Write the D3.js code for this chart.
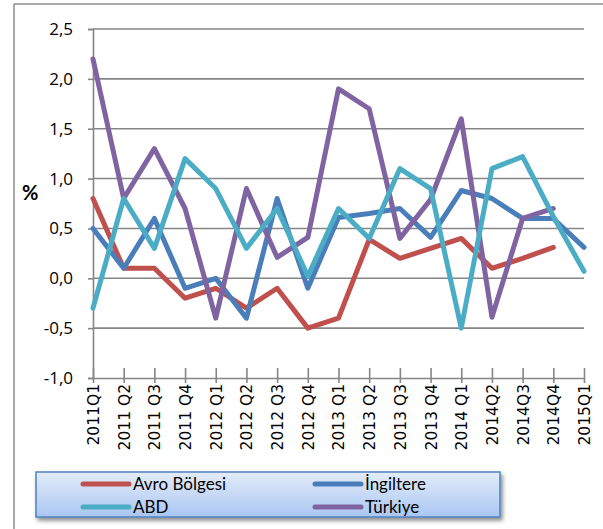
<!DOCTYPE html>
<html>
<head>
<meta charset="utf-8">
<script src="https://cdn.jsdelivr.net/npm/d3@7"></script>
<style>
  body { margin: 0; background: #fff; }
  text { font-family: Lato, "Open Sans", sans-serif; }
</style>
</head>
<body>
<div id="chart"></div>
<script>
var quarters = ["2011Q1", "2011 Q2", "2011 Q3", "2011 Q4", "2012 Q1", "2012 Q2", "2012 Q3", "2012 Q4",
                "2013 Q1", "2013 Q2", "2013 Q3", "2013 Q4", "2014 Q1", "2014Q2", "2014Q3", "2014Q4", "2015Q1"];
var yTicks = [-1.0, -0.5, 0.0, 0.5, 1.0, 1.5, 2.0, 2.5];

var avro     = [0.8, 0.1, 0.1, -0.2, -0.1, -0.3, -0.1, -0.5, -0.4, 0.39, 0.2, 0.3, 0.4, 0.1, 0.2, 0.31, null];
var ingilter = [0.5, 0.1, 0.6, -0.1, 0.0, -0.4, 0.8, -0.1, 0.61, 0.65, 0.7, 0.41, 0.88, 0.8, 0.6, 0.6, 0.31];
var abd      = [-0.3, 0.8, 0.3, 1.2, 0.9, 0.3, 0.7, 0.02, 0.7, 0.4, 1.1, 0.9, -0.5, 1.1, 1.22, 0.62, 0.07];
var turkiye  = [2.2, 0.8, 1.3, 0.7, -0.4, 0.9, 0.21, 0.41, 1.9, 1.7, 0.4, 0.79, 1.6, -0.39, 0.6, 0.7, null];

var series = [
  {name: "Avro Bölgesi", values: avro, color: "#C0504D"},
  {name: "İngiltere", values: ingilter, color: "#4A7EBB"},
  {name: "ABD", values: abd, color: "#4BACC6"},
  {name: "Türkiye", values: turkiye, color: "#8064A2"}
];
var drawOrder = [series[0], series[1], series[3], series[2]];

var width = 603, height = 529;
var svg = d3.select("#chart").append("svg")
  .attr("width", width).attr("height", height);

// outer frame (partly clipped)
svg.append("line").attr("x1", 14).attr("x2", width).attr("y1", 4).attr("y2", 4)
  .attr("stroke", "#8c8c8c").attr("stroke-width", 1.5);
svg.append("line").attr("x1", 14).attr("x2", 14).attr("y1", 4).attr("y2", height)
  .attr("stroke", "#8c8c8c").attr("stroke-width", 1.5);

var x = d3.scalePoint().domain(quarters).range([93, 584]);
var y = d3.scaleLinear().domain([-1, 2.5]).range([378, 29]);

// grid
svg.append("g").selectAll("line").data(yTicks.filter(d => d > -1)).enter().append("line")
  .attr("x1", 93).attr("x2", 584)
  .attr("y1", d => y(d)).attr("y2", d => y(d))
  .attr("stroke", "#868686").attr("stroke-width", 1.6);

// y axis
var yAxis = svg.append("g").attr("transform", "translate(93,0)")
  .call(d3.axisLeft(y).tickValues(yTicks).tickSize(5).tickPadding(15)
    .tickFormat(d => d3.format(".1f")(d).replace(".", ",").replace("−", "-")));
yAxis.select(".domain").attr("stroke", "#868686").attr("stroke-width", 1.6);
yAxis.selectAll(".tick line").attr("stroke", "#868686").attr("stroke-width", 1.6);
yAxis.selectAll("text").attr("font-size", 17).attr("fill", "#000")
  .style("font-family", "'Open Sans', sans-serif").attr("dy", "0.32em");

// x axis
var xAxis = svg.append("g").attr("transform", "translate(0,378)")
  .call(d3.axisBottom(x).tickSize(5).tickSizeOuter(0));
xAxis.select(".domain").attr("stroke", "#868686").attr("stroke-width", 1.6);
xAxis.selectAll(".tick line").attr("y1", -10).attr("y2", 5)
  .attr("stroke", "#868686").attr("stroke-width", 1.6);
xAxis.selectAll("text")
  .attr("transform", "rotate(-90)")
  .attr("x", -6).attr("y", 0).attr("dy", "0.35em")
  .attr("text-anchor", "end")
  .attr("font-size", 15.5).attr("fill", "#000")
  .style("font-family", "'DejaVu Sans', sans-serif");

// % label
svg.append("text").attr("x", 22).attr("y", 200).text("%")
  .attr("font-size", 20).attr("font-weight", "bold").attr("fill", "#000");

// lines
var line = d3.line()
  .defined(d => d != null)
  .x((d, i) => x(quarters[i]))
  .y(d => y(d));

svg.append("g").selectAll("path").data(drawOrder).enter().append("path")
  .attr("d", d => line(d.values))
  .attr("fill", "none")
  .attr("stroke", d => d.color)
  .attr("stroke-width", 5)
  .attr("stroke-linejoin", "round")
  .attr("stroke-linecap", "round");

// legend
var defs = svg.append("defs");
var grad = defs.append("linearGradient").attr("id", "lg")
  .attr("x1", 0).attr("y1", 0).attr("x2", 0).attr("y2", 1);
grad.append("stop").attr("offset", "0%").attr("stop-color", "#e4ecf9");
grad.append("stop").attr("offset", "100%").attr("stop-color", "#a9c6f2");
var filt = defs.append("filter").attr("id", "sh").attr("x", "-10%").attr("y", "-30%")
  .attr("width", "120%").attr("height", "180%");
filt.append("feDropShadow").attr("dx", 2).attr("dy", 3).attr("stdDeviation", 2)
  .attr("flood-color", "#000").attr("flood-opacity", 0.45);

svg.append("rect").attr("x", 36).attr("y", 472).attr("width", 464).attr("height", 45)
  .attr("fill", "url(#lg)").attr("stroke", "#4F81BD").attr("stroke-width", 1.5)
  .attr("filter", "url(#sh)");

var legendPos = [[83, 484], [315, 484], [83, 507], [315, 507]];
var leg = svg.append("g").selectAll("g").data(series).enter().append("g")
  .attr("transform", (d, i) => "translate(" + legendPos[i][0] + "," + legendPos[i][1] + ")");
leg.append("line").attr("x1", 0).attr("x2", 46).attr("y1", 0).attr("y2", 0)
  .attr("stroke", d => d.color).attr("stroke-width", 5).attr("stroke-linecap", "round");
leg.append("text").attr("x", 50).attr("y", 0).attr("dy", "0.36em")
  .attr("font-size", 17).attr("fill", "#000").text(d => d.name);
</script>
</body>
</html>
